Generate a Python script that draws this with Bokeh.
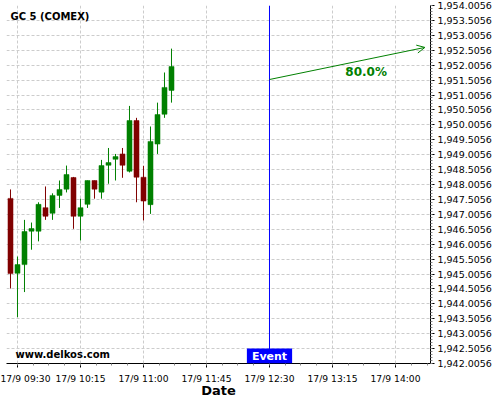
from bokeh.plotting import figure
from bokeh.models import (FixedTicker, NumeralTickFormatter, Span, Label, Arrow,
                          OpenHead, Range1d, ColumnDataSource)
from bokeh.embed import file_html
from bokeh.resources import INLINE

# ---- data (5-minute candles, 17/9) ----
times = ["09:25", "09:30", "09:35", "09:40", "09:45", "09:50", "09:55", "10:00",
         "10:05", "10:10", "10:15", "10:20", "10:25", "10:30", "10:35", "10:40",
         "10:45", "10:50", "10:55", "11:00", "11:05", "11:10", "11:15", "11:20"]
opens = [1947.54, 1945.03, 1945.32, 1946.44, 1946.44, 1947.23, 1947.04, 1947.64,
         1947.85, 1948.24, 1946.94, 1947.34, 1948.14, 1947.75, 1948.65, 1948.85,
         1949.03, 1948.45, 1950.15, 1948.25, 1947.33, 1949.36, 1950.36, 1951.16]
highs = [1947.84, 1945.59, 1946.82, 1946.73, 1947.41, 1947.94, 1947.71, 1948.14,
         1948.64, 1948.26, 1947.53, 1948.14, 1948.14, 1948.83, 1949.23, 1949.03,
         1949.23, 1950.64, 1950.24, 1948.63, 1949.95, 1950.75, 1951.76, 1952.56]
lows = [1944.52, 1943.56, 1944.40, 1945.82, 1946.10, 1946.82, 1946.82, 1947.22,
        1947.74, 1946.52, 1946.13, 1947.22, 1947.53, 1947.53, 1948.03, 1948.14,
        1948.23, 1948.41, 1947.41, 1946.80, 1947.02, 1949.03, 1950.24, 1950.75]
closes = [1945.02, 1945.32, 1946.43, 1946.53, 1947.34, 1946.94, 1947.64, 1947.84,
          1948.34, 1946.94, 1947.23, 1948.14, 1947.85, 1948.64, 1948.74, 1948.94,
          1948.65, 1950.15, 1948.25, 1947.45, 1949.45, 1950.35, 1951.26, 1951.96]

x_tick_times = ["09:30", "10:15", "11:00", "11:45", "12:30", "13:15", "14:00"]
x_tick_labels = ["17/9 09:30", "17/9 10:15", "17/9 11:00", "17/9 11:45",
                 "17/9 12:30", "17/9 13:15", "17/9 14:00"]
y_ticks = [1942.0056, 1942.5056, 1943.0056, 1943.5056, 1944.0056, 1944.5056,
           1945.0056, 1945.5056, 1946.0056, 1946.5056, 1947.0056, 1947.5056,
           1948.0056, 1948.5056, 1949.0056, 1949.5056, 1950.0056, 1950.5056,
           1951.0056, 1951.5056, 1952.0056, 1952.5056, 1953.0056, 1953.5056,
           1954.0056]

event_time = "12:30"
arrow_start_value = 1951.525
arrow_end_time = "14:21"
arrow_end_value = 1952.60
prob_text = "80.0%"
prob_time = "13:39"
prob_value = 1951.79

title_text = "GC 5 (COMEX)"
watermark = "www.delkos.com"


def to_min(t):
    h, m = t.split(":")
    return int(h) * 60 + int(m) - (9 * 60 + 30)


xs = [to_min(t) for t in times]
green, red = "#008000", "#800000"
colors = [green if c >= o else red for o, c in zip(opens, closes)]
src = ColumnDataSource(dict(
    x=xs, top=[max(o, c) for o, c in zip(opens, closes)],
    bottom=[min(o, c) for o, c in zip(opens, closes)],
    high=highs, low=lows, color=colors))

p = figure(frame_width=424, frame_height=358,
           x_range=Range1d(-7.857, 295.0), y_range=Range1d(1942.0056, 1954.0056),
           y_axis_location="right", output_backend="svg", toolbar_location=None,
           min_border=0, min_border_left=6, min_border_top=5, title=None)
p.outline_line_color = None
p.background_fill_color = "white"
p.border_fill_color = "white"

p.segment(x0="x", y0="low", x1="x", y1="high", line_color="color", line_width=1, source=src)
p.vbar(x="x", width=3.6, top="top", bottom="bottom", fill_color="color",
       line_color="color", line_width=0.5, source=src)

# x axis
xt = [to_min(t) for t in x_tick_times]
minor_x = [k * 11.25 for k in range(-1, 28)]
p.xaxis.ticker = FixedTicker(ticks=xt, minor_ticks=minor_x)
p.xaxis.major_label_overrides = {v: lab for v, lab in zip(xt, x_tick_labels)}
p.xaxis.axis_label = "Date"
p.xaxis.axis_label_text_font = "DejaVu Sans"
p.xaxis.axis_label_text_font_style = "bold"
p.xaxis.axis_label_text_font_size = "13px"
p.xaxis.axis_label_text_color = "black"
p.xaxis.axis_label_standoff = -4
p.xaxis.major_label_text_font = "DejaVu Sans"
p.xaxis.major_label_text_font_size = "9.2px"
p.xaxis.major_label_text_color = "black"
p.xaxis.major_label_standoff = 5
p.xaxis.major_tick_out = 4
p.xaxis.major_tick_in = 0
p.xaxis.minor_tick_out = 2
p.xaxis.minor_tick_in = 0
p.xaxis.axis_line_color = "black"
p.xaxis.major_tick_line_color = "black"
p.xaxis.minor_tick_line_color = "#888888"

# y axis (right)
minor_y = [1942.0056 + k * 0.1 for k in range(0, 121)]
p.yaxis.ticker = FixedTicker(ticks=y_ticks, minor_ticks=minor_y)
p.yaxis.formatter = NumeralTickFormatter(format="0,0.0000")
p.yaxis.major_label_text_font = "DejaVu Sans"
p.yaxis.major_label_text_font_size = "9.5px"
p.yaxis.major_label_text_color = "black"
p.yaxis.major_label_standoff = 3
p.yaxis.major_tick_out = 4
p.yaxis.major_tick_in = 0
p.yaxis.minor_tick_out = 2
p.yaxis.minor_tick_in = 0
p.yaxis.axis_line_color = "black"
p.yaxis.major_tick_line_color = "black"
p.yaxis.minor_tick_line_color = "#888888"

p.grid.grid_line_color = "#cccccc"
p.grid.grid_line_dash = "3 2"
p.grid.grid_line_width = 1

# event line and label
ev = to_min(event_time)
p.add_layout(Span(location=ev, dimension="height", line_color="#0000ff", line_width=1))
p.add_layout(Label(x=ev, y=0, y_units="screen", text="Event", text_align="center",
                   text_baseline="bottom", text_color="white", text_font_style="bold",
                   text_font="DejaVu Sans", text_font_size="11px",
                   background_fill_color="#0000ff",
                   padding=dict(left=5, right=5, top=1, bottom=1)))

# arrow and probability
p.add_layout(Arrow(end=OpenHead(size=8, line_color=green, line_width=1),
                   x_start=ev, y_start=arrow_start_value,
                   x_end=to_min(arrow_end_time), y_end=arrow_end_value,
                   line_color=green, line_width=1))
p.add_layout(Label(x=to_min(prob_time), y=prob_value, text=prob_text,
                   text_align="center", text_baseline="middle", text_color=green,
                   text_font="DejaVu Sans", text_font_style="bold", text_font_size="12px"))

p.add_layout(Label(x=4, y=347, x_units="screen", y_units="screen", text=title_text,
                   text_align="left", text_baseline="middle", text_color="black",
                   text_font="DejaVu Sans", text_font_style="bold", text_font_size="10px"))
p.add_layout(Label(x=9, y=9, x_units="screen", y_units="screen", text=watermark,
                   text_align="left", text_baseline="middle", text_color="black",
                   text_font="DejaVu Sans", text_font_style="bold", text_font_size="10px"))

open("out.html", "w").write(file_html(p, INLINE))
